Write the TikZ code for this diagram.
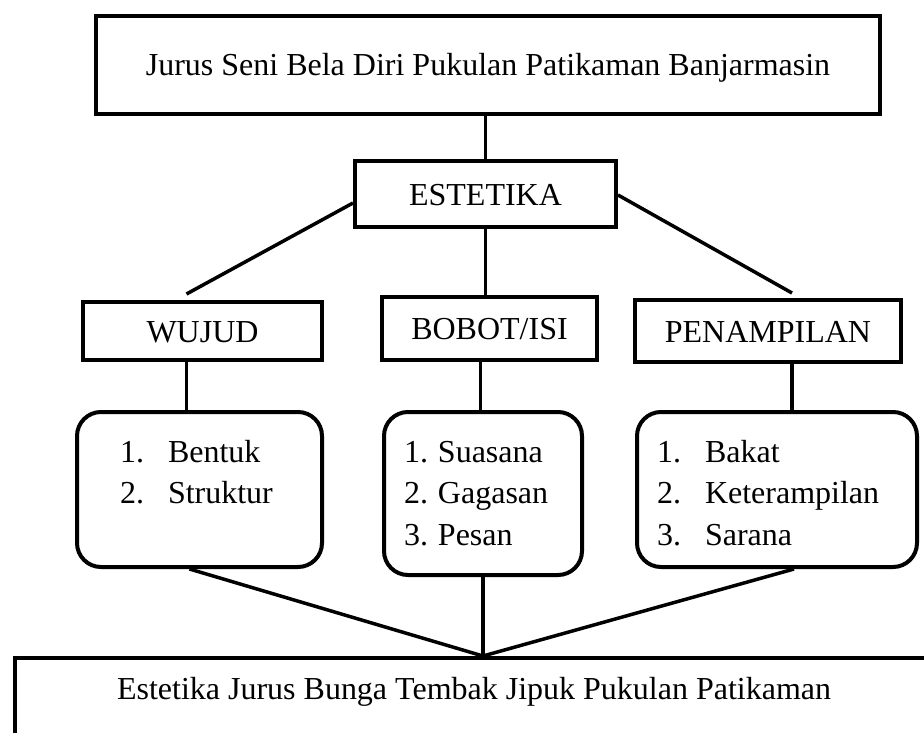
\documentclass[tikz,border=0pt]{standalone}
\usepackage{fontspec}
\setmainfont{Liberation Serif}
\usepackage{tikz}

\tikzset{
  kotak/.style = {draw, line width = 4pt, inner sep = 0pt,
    text height = 22pt, text depth = 0pt},
  daftar/.style = {draw, line width = 4pt, rounded corners = 24pt,
    anchor = north west, align = flush left, inner ysep = 28pt, inner xsep = 20pt,
    text height = 22pt},
  garis/.style = {line width = 3.5pt}
}
\newcommand{\nomor}[2]{\makebox[#1][l]{#2}}

\begin{document}
\begin{tikzpicture}[x = 1pt, y = -1pt,
  every node/.style = {font = \fontsize{32}{41.5}\selectfont}]
  \useasboundingbox (0,0) rectangle (924,733);
  \clip (0,0) rectangle (924,733);

  \node[kotak, minimum width = 784pt, minimum height = 98pt] (judul) at (488,65)
    {Jurus Seni Bela Diri Pukulan Patikaman Banjarmasin};
  \node[kotak, minimum width = 261pt, minimum height = 66pt] (estetika) at (485.5,194)
    {ESTETIKA};

  \node[kotak, minimum width = 239pt, minimum height = 58pt] (wujud) at (202.5,331)
    {WUJUD};
  \node[kotak, minimum width = 215pt, minimum height = 63pt] (bobot) at (489.5,328.5)
    {BOBOT/ISI};
  \node[kotak, minimum width = 266pt, minimum height = 62pt] (penampilan) at (768,331)
    {PENAMPILAN};

  \node[daftar, inner xsep = 43pt, text width = 159pt, text depth = 77pt] (isi1) at (75,410)
    {\nomor{48pt}{1.}Bentuk\\ \nomor{48pt}{2.}Struktur};
  \node[daftar, text width = 158pt, text depth = 85pt] (isi2) at (382,410)
    {\nomor{34pt}{1.}Suasana\\ \nomor{34pt}{2.}Gagasan\\ \nomor{34pt}{3.}Pesan};
  \node[daftar, text width = 240pt, text depth = 77pt] (isi3) at (635,410)
    {\nomor{48pt}{1.}Bakat\\ \nomor{48pt}{2.}Keterampilan\\ \nomor{48pt}{3.}Sarana};

  \node[kotak, anchor = north west, inner xsep = 102pt, inner ysep = 19pt,
    text depth = 30pt] (hasil) at (13,656)
    {Estetika Jurus Bunga Tembak Jipuk Pukulan Patikaman};
  \coordinate (temu) at (483,656);

  \draw[garis] (estetika.north) -- (estetika.north |- judul.south);
  \draw[garis] ([yshift=-9pt]estetika.west) -- ([xshift=-16pt,yshift=6pt]wujud.north);
  \draw[garis] (estetika.south) -- (estetika.south |- bobot.north);
  \draw[garis] ([yshift=-1pt]estetika.east) -- ([xshift=24pt,yshift=5pt]penampilan.north);

  \draw[garis] ([xshift=-16pt]wujud.south) -- ([xshift=-16pt]wujud.south |- isi1.north);
  \draw[garis] ([xshift=-9pt]bobot.south) -- ([xshift=-9pt]bobot.south |- isi2.north);
  \draw[garis] ([xshift=24pt]penampilan.south) -- ([xshift=24pt]penampilan.south |- isi3.north);

  \draw[garis] ([xshift=-10pt]isi1.south) -- (temu);
  \draw[garis] (isi2.south) -- (isi2.south |- temu);
  \draw[garis] ([xshift=17pt]isi3.south) -- (temu);

\end{tikzpicture}
\end{document}
